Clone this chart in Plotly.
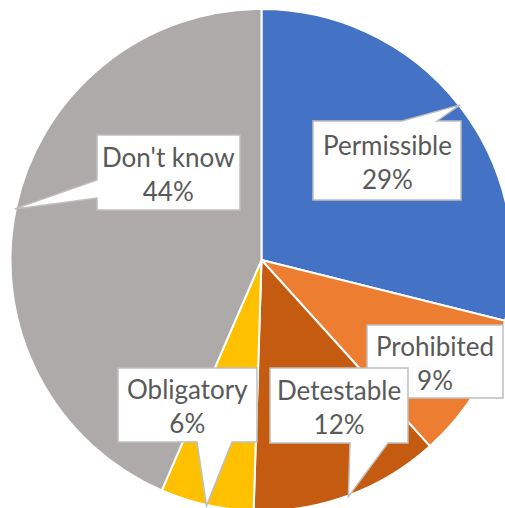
import math
import plotly.graph_objects as go

# ---- data ----
categories = ["Permissible", "Prohibited", "Detestable", "Obligatory", "Don't know"]
values = [28.9, 9.4, 12.2, 6.0, 43.5]
pct_labels = ["29%", "9%", "12%", "6%", "44%"]
colors = ["#4472C4", "#ED7D31", "#C55A11", "#FFC000", "#AEAAAA"]

# ---- layout constants (pixels) ----
W, H = 523, 520
MT, MB = 9, 9
# callout boxes: (x0, y0, x1, y1) and pointer base (edge, a, b)
boxes = [
    (313, 121, 461, 200),
    (367, 325, 503, 398),
    (270, 368, 408, 443),
    (118, 368, 257, 442),
    (97, 135, 240, 210),
]
bases = [
    ("top", 402, 437),
    (None, 0, 0),
    ("bottom", 350, 388),
    ("bottom", 197, 232),
    ("left", 180, 198),
]

cx = W / 2
cy = MT + (H - MT - MB) / 2
r = min(W, H - MT - MB) / 2

fig = go.Figure()
fig.add_trace(go.Pie(
    labels=categories, values=values, sort=False, direction="clockwise",
    rotation=0, textinfo="none", hoverinfo="label+percent",
    marker=dict(colors=colors, line=dict(color="white", width=2)),
    domain=dict(x=[0, 1], y=[0, 1]), showlegend=False,
))
# invisible scatter to create pixel-coordinate axes
fig.add_trace(go.Scatter(x=[0, W], y=[MT, H - MB], mode="markers",
                         marker=dict(opacity=0), hoverinfo="skip", showlegend=False))

total = sum(values)
cum = 0.0
shapes = []
annotations = []
for i, v in enumerate(values):
    theta = math.radians(360.0 * (cum + v / 2) / total)
    cum += v
    tx = cx + (r + 1) * math.sin(theta)
    ty = cy - (r + 1) * math.cos(theta)
    x0, y0, x1, y1 = boxes[i]
    edge, a, b = bases[i]
    pts = [(x0, y0)]
    if edge == "top":
        pts += [(a, y0), (tx, ty), (b, y0)]
    pts += [(x1, y0), (x1, y1)]
    if edge == "bottom":
        pts += [(b, y1), (tx, ty), (a, y1)]
    pts += [(x0, y1)]
    if edge == "left":
        pts += [(x0, b), (tx, ty), (x0, a)]
    path = "M " + " L ".join(f"{px:.1f},{py:.1f}" for px, py in pts) + " Z"
    shapes.append(dict(type="path", path=path, xref="x", yref="y",
                       fillcolor="white", line=dict(color="#BFBFBF", width=1.5),
                       layer="above"))
    annotations.append(dict(
        x=(x0 + x1) / 2, y=(y0 + y1) / 2 + 1, xref="x", yref="y",
        text=f"{categories[i]}<br>{pct_labels[i]}", showarrow=False,
        font=dict(family="Lato", size=26, color="#595959"),
    ))

fig.update_layout(
    width=W, height=H,
    margin=dict(l=0, r=0, t=MT, b=MB, pad=0),
    paper_bgcolor="white", plot_bgcolor="white",
    xaxis=dict(range=[0, W], visible=False, fixedrange=True),
    yaxis=dict(range=[H - MB, MT], visible=False, fixedrange=True),
    shapes=shapes, annotations=annotations,
)
fig.write_html("out.html")
